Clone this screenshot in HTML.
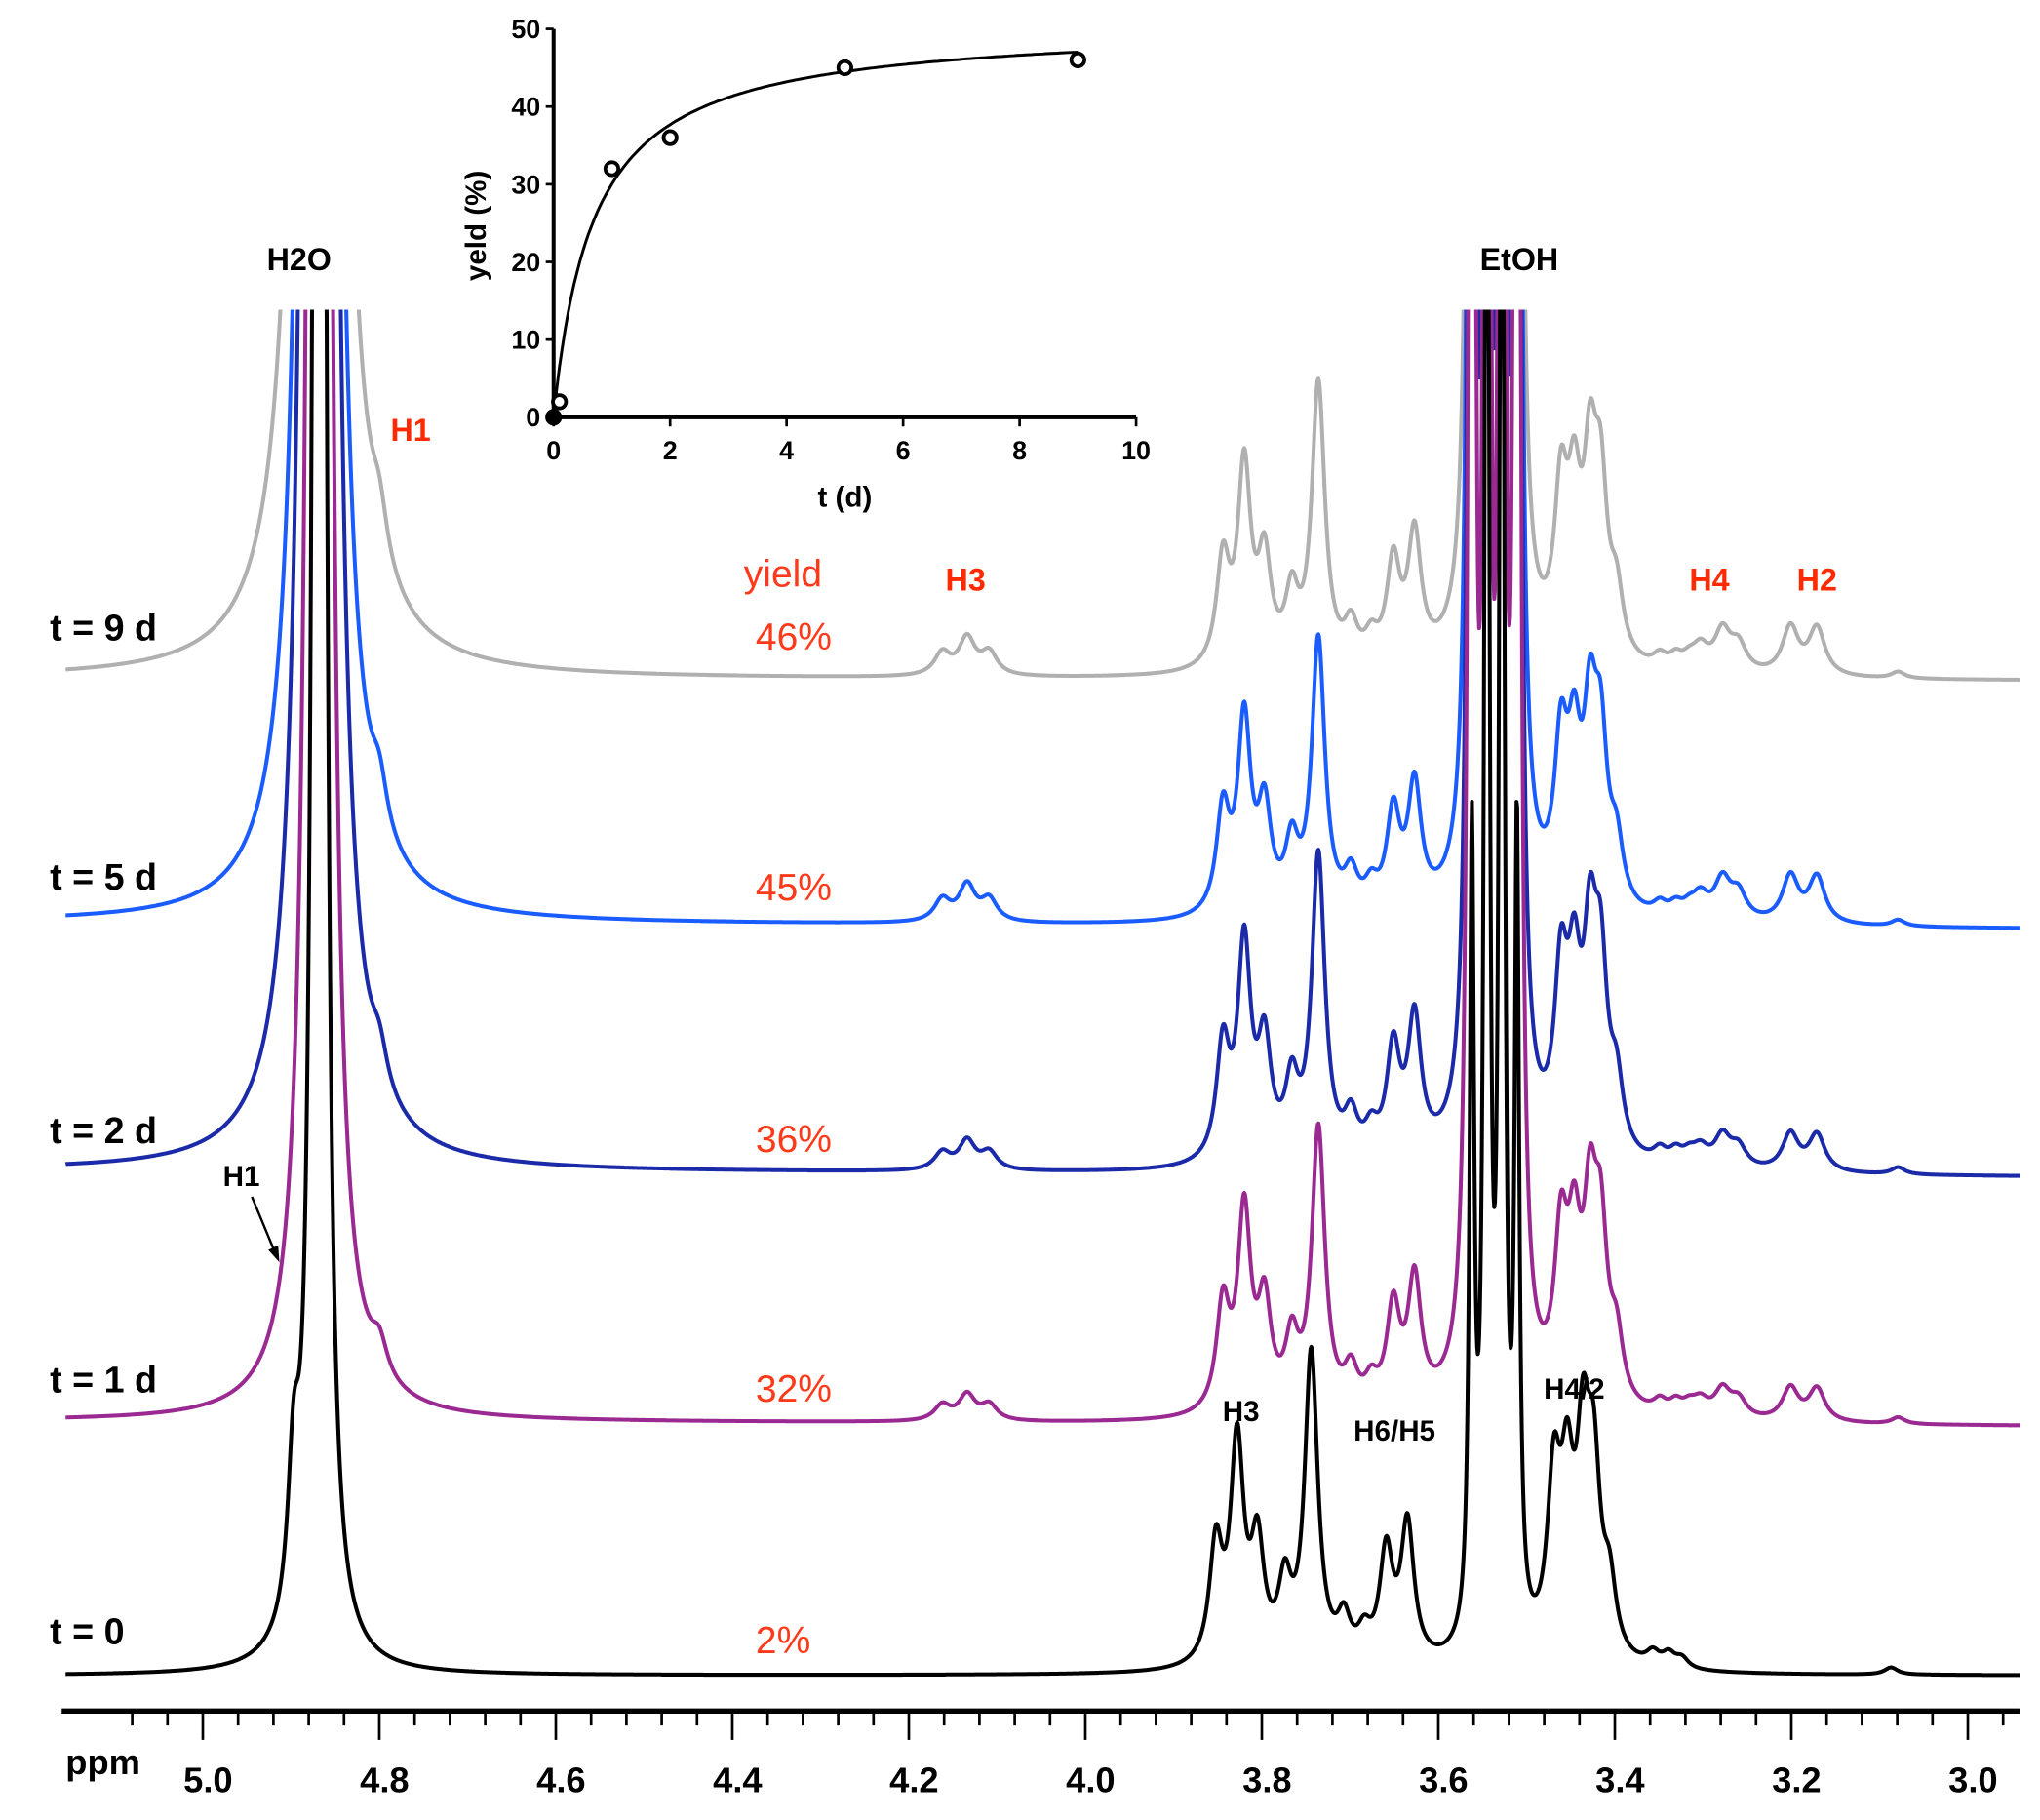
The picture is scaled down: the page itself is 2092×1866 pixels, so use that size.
<!DOCTYPE html>
<html><head><meta charset="utf-8"><style>
html,body{margin:0;padding:0;background:#fff}
svg{display:block}
text{font-family:"Liberation Sans",Arial,sans-serif}
</style></head><body>
<svg id="chart" width="2092" height="1866" viewBox="0 0 1555 1387" xmlns="http://www.w3.org/2000/svg">
<defs><clipPath id="clipTop"><rect x="0" y="236" width="1555" height="1100"/></clipPath></defs>
<g id="spectra" clip-path="url(#clipTop)"></g>
<g id="axis"></g>
<g id="inset"></g>
<g font-weight="bold">
<text x="228" y="206" font-size="24" text-anchor="middle">H2O</text>
<text x="1158" y="206" font-size="24" text-anchor="middle">EtOH</text>
<text x="313" y="336" font-size="24" fill="#ff2a00" text-anchor="middle">H1</text>
<text x="736" y="450" font-size="24" fill="#ff2a00" text-anchor="middle">H3</text>
<text x="1303" y="450" font-size="24" fill="#ff2a00" text-anchor="middle">H4</text>
<text x="1385" y="450" font-size="24" fill="#ff2a00" text-anchor="middle">H2</text>
<text x="184" y="904" font-size="22" text-anchor="middle">H1</text>
<text x="946" y="1083" font-size="22" text-anchor="middle">H3</text>
<text x="1063" y="1098" font-size="22" text-anchor="middle">H6/H5</text>
<text x="1200" y="1066" font-size="22" text-anchor="middle">H4/2</text>
<line x1="192" y1="912" x2="209" y2="953" stroke="#000" stroke-width="1.8"/>
<polygon points="213,962 212,949 204.5,952.5" fill="#000"/>
</g>
<g font-weight="bold" font-size="28">
<text x="38" y="488">t = 9 d</text>
<text x="38" y="678">t = 5 d</text>
<text x="38" y="871">t = 2 d</text>
<text x="38" y="1061">t = 1 d</text>
<text x="38" y="1253">t = 0</text>
</g>
<g font-size="29" fill="#ff3a1a">
<text x="567" y="447">yield</text>
<text x="576" y="495">46%</text>
<text x="576" y="686">45%</text>
<text x="576" y="878">36%</text>
<text x="576" y="1068">32%</text>
<text x="576" y="1260">2%</text>
</g>
</svg>
<script>
// ---- spectra data ----
const seriesNames = ["t9","t5","t2","t1","t0"];
const seriesColors = ["#b0b0b0","#1a5cff","#1a2aa8","#9a2a92","#000000"];
const baselineLeft = [517,703,892,1083,1277];
const baselineRight = [519,708,897,1087,1277];
const seriesYield = [46,45,36,32,2];
const substrateScale = [1.0,0.97,1.08,1.0,1.1];
const seriesShift = [0,0,0,0,0.008];
const waterHeight = [34500,27600,24900,13800,5500];
const etohHeight = [[2500,2500,2500,2500],[2500,2500,2500,2500],[2500,2500,2500,2500],[2500,2500,2500,2500],[600,1500,1500,600]];
const etohPpm = [3.562,3.545,3.528,3.511];
const waterPpm = 4.868;
const substratePpm = [3.844,3.820,3.797,3.766,3.736,3.699,3.676,3.651,3.627,3.461,3.446,3.428,3.416,3.398,3.349,3.331,3.316,3.079];
const substrateHeight = [80,150,78,50,215,28,18,75,95,115,105,130,115,45,9,9,7,5];
const productPpm = [4.800,4.162,4.134,4.109,3.303,3.278,3.260,3.201,3.171];
const productHeight = [36,17,28,17,17,30,20,36,36];
const blackH1Ppm = 4.897, blackH1Height = 110;
// ---- axis data ----
const majorTicks = [5.0,4.8,4.6,4.4,4.2,4.0,3.8,3.6,3.4,3.2,3.0];
const majorTickLabels = ["5.0","4.8","4.6","4.4","4.2","4.0","3.8","3.6","3.4","3.2","3.0"];
// ---- inset data ----
const insetT = [0,0.1,1,2,5,9];
const insetYield = [0,2,32,36,45,46];
const fitYmax = 50.6, fitK = 0.686;
const insetXTicks = [0,2,4,6,8,10];
const insetYTicks = [0,10,20,30,40,50];

const NS="http://www.w3.org/2000/svg";
function mk(tag,attrs,parent){const e=document.createElementNS(NS,tag);for(const k in attrs)e.setAttribute(k,attrs[k]);parent.appendChild(e);return e;}
const xOf = p => 154.6 + (5.0-p)*672.7;
const ppmOf = x => 5.0 - (x-154.6)/672.7;
function lor(p,c,h,g){const d=p-c;return h*g*g/(d*d+g*g);}

const spectraG=document.getElementById('spectra');
for(let s=0;s<seriesNames.length;s++){
  let d="";
  const sh=seriesShift[s];
  for(let x=50;x<=1540;x+=0.5){
    const p=ppmOf(x);
    let h=lor(p,waterPpm,waterHeight[s],0.004);
    for(let i=0;i<etohPpm.length;i++) h+=lor(p,etohPpm[i],etohHeight[s][i],0.003);
    for(let i=0;i<substratePpm.length;i++) h+=lor(p,substratePpm[i]+sh,substrateHeight[i]*substrateScale[s],0.009);
    const ys=seriesYield[s]/46;
    if(s<4) for(let i=0;i<productPpm.length;i++) h+=lor(p,productPpm[i],productHeight[i]*ys,0.011);
    if(s===4) h+=lor(p,blackH1Ppm,blackH1Height,0.008);
    const base=baselineLeft[s]+(baselineRight[s]-baselineLeft[s])*(x-50)/1490;
    const y=Math.max(base-h,200);
    d+=(x===50?"M":"L")+x.toFixed(1)+","+y.toFixed(1);
  }
  const path=mk('path',{d:d,fill:"none",stroke:seriesColors[s],"stroke-width":3,"stroke-linejoin":"round"},spectraG);
  
  
}

// ppm axis
const ax=document.getElementById('axis');
const axisY=1304;
const axl=mk('line',{x1:47,y1:axisY,x2:1540,y2:axisY,stroke:"#000","stroke-width":4},ax);


for(let i=-2;i<=51;i++){
  const p=5.0-i*0.04;
  const x=xOf(p);
  if(x<50||x>1541)continue;
  const major=(i%5===0);
  const t=mk('line',{x1:x,y1:axisY,x2:x,y2:axisY+(major?22:11),stroke:"#000","stroke-width":2},ax);
  
  
}
for(let i=0;i<majorTicks.length;i++){
  const t=mk('text',{x:xOf(majorTicks[i])+4,y:1366,"font-size":27,"font-weight":"bold","text-anchor":"middle"},ax);
  t.textContent=majorTickLabels[i];
  
  
}
const ppmL=mk('text',{x:50,y:1352,"font-size":27,"font-weight":"bold"},ax);
ppmL.textContent="ppm";



// inset
const ig=document.getElementById('inset');
const ix=t=>422+t*44.4, iy=v=>318-v*5.92;
const ya=mk('line',{x1:422,y1:iy(50),x2:422,y2:iy(0),stroke:"#000","stroke-width":3},ig);


const xa=mk('line',{x1:422,y1:iy(0),x2:ix(10),y2:iy(0),stroke:"#000","stroke-width":3},ig);


for(const v of insetYTicks){
  const l=mk('line',{x1:416,y1:iy(v),x2:422,y2:iy(v),stroke:"#000","stroke-width":2},ig);
  
  
  const t=mk('text',{x:412,y:iy(v)+7,"font-size":20,"font-weight":"bold","text-anchor":"end"},ig);
  t.textContent=v;
  
  
}
for(const v of insetXTicks){
  const l=mk('line',{x1:ix(v),y1:318,x2:ix(v),y2:325,stroke:"#000","stroke-width":2},ig);
  
  
  const t=mk('text',{x:ix(v),y:350,"font-size":20,"font-weight":"bold","text-anchor":"middle"},ig);
  t.textContent=v;
  
  
}
const xt=mk('text',{x:644,y:386,"font-size":22,"font-weight":"bold","text-anchor":"middle"},ig);
xt.textContent="t (d)";


const yt=mk('text',{x:0,y:0,"font-size":22,"font-weight":"bold","text-anchor":"middle",transform:"translate(370,172) rotate(-90)"},ig);
yt.textContent="yeld (%)";


let fd="";
for(let t=0;t<=9.001;t+=0.05){const v=fitYmax*t/(fitK+t);fd+=(t===0?"M":"L")+ix(t).toFixed(1)+","+iy(v).toFixed(1);}
const fit=mk('path',{d:fd,fill:"none",stroke:"#000","stroke-width":2.2},ig);


for(let i=0;i<insetT.length;i++){
  const c=mk('circle',{cx:ix(insetT[i]),cy:iy(insetYield[i]),r:5,fill:i===0?"#000":"#fff",stroke:"#000","stroke-width":2.8},ig);
  
  
}
</script>
</body></html>
